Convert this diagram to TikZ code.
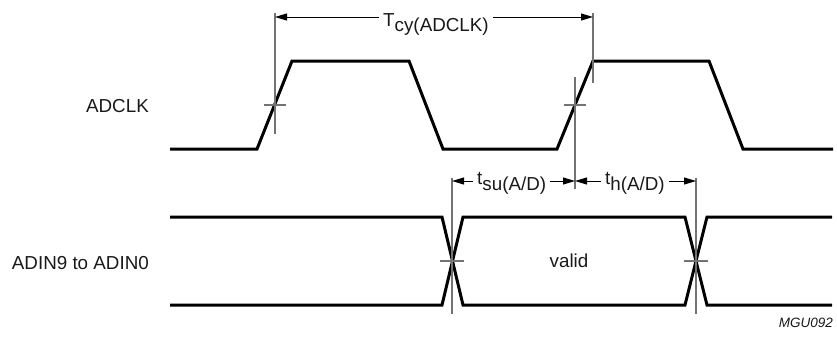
\documentclass[tikz,border=0pt]{standalone}
\usepackage{fontspec}
\setmainfont{Liberation Sans}
\usetikzlibrary{arrows.meta}
\begin{document}
\begin{tikzpicture}[x=1pt,y=-1pt,
  wave/.style={line width=3pt, line join=miter},
  marker/.style={draw=black!55, line width=1.1pt},
  dim/.style={line width=1pt, {Triangle[length=12pt,width=7pt]}-{Triangle[length=12pt,width=7pt]}},
  lbl/.style={font=\fontsize{18.8}{22}\selectfont, inner sep=0pt, text=black!90},
  dimlbl/.style={lbl, fill=white, inner xsep=4pt, inner ysep=1pt, anchor=base west},
]
\useasboundingbox (0,0) rectangle (837,338);

% signal labels
\node[lbl, anchor=base east] (clk) at (149,112) {ADCLK};
\node[lbl, anchor=base east] (adin) at (149,269) {ADIN9 to ADIN0};
\node[lbl, anchor=base] (valid) at (569,267) {valid};
\node[font=\fontsize{13.5}{16}\selectfont\itshape, anchor=base east, inner sep=0pt, text=black!90] (mgu) at (833,327) {MGU092};

% ADCLK waveform
\draw[wave] (170,149) -- (257,149) -- (292,61) -- (409,61) -- (443,149)
  -- (557,149) -- (593,61) -- (709,61) -- (743,149) -- (833,149);

% ADIN waveforms
\draw[wave] (170,217) -- (442,217) -- (463,305) -- (685,305) -- (707,217) -- (832,217);
\draw[wave] (170,305) -- (442,305) -- (463,217) -- (685,217) -- (707,305) -- (832,305);

% reference markers
\coordinate (m1t) at (275,13);  \coordinate (m1b) at (275,134);
\coordinate (m2t) at (593,13);  \coordinate (m2b) at (593,83);
\coordinate (m3t) at (575,77);  \coordinate (m3b) at (575,189);
\coordinate (m4t) at (452,178); \coordinate (m4b) at (452,314);
\coordinate (m5t) at (696,178); \coordinate (m5b) at (696,314);
\draw[marker] (m1t) -- (m1b);
\draw[marker] (m2t) -- (m2b);
\draw[marker] (m3t) -- (m3b);
\draw[marker] (m4t) -- (m4b);
\draw[marker] (m5t) -- (m5b);
\draw[marker] (264,105) -- (286,105);
\draw[marker] (564,105) -- (586,105);
\draw[marker] (440,261) -- (464,261);
\draw[marker] (684,261) -- (708,261);

% dimension arrows
\coordinate (a1) at (275,17);  \coordinate (a2) at (593,17);
\coordinate (b1) at (452,181); \coordinate (b2) at (575,181); \coordinate (b3) at (696,181);
\draw[dim] (a1) -- (a2);
\draw[dim] (b1) -- (b2);
\draw[dim] (b2) -- (b3);
\node[dimlbl] (tcy) at (379,26) {T\raisebox{-5pt}{cy(ADCLK)}};
\node[dimlbl] (tsu) at (473,184.5) {t\raisebox{-6pt}{su(A/D)}};
\node[dimlbl] (th) at (601,184.5) {t\raisebox{-6pt}{h(A/D)}};
\end{tikzpicture}
\end{document}
